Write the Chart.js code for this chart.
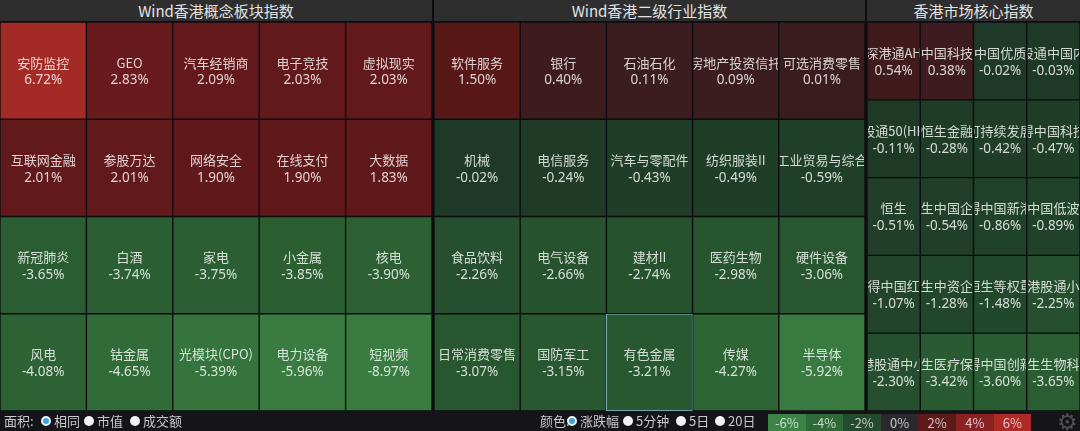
<!DOCTYPE html>
<html><head><meta charset="utf-8">
<script src="https://cdn.jsdelivr.net/npm/chart.js@4.4.0/dist/chart.umd.min.js"></script>
<style>
html,body{margin:0;padding:0;background:#0d0d10;width:1080px;height:431px;overflow:hidden;font-family:"Noto Sans CJK SC","Noto Sans",sans-serif;}
.hdr{position:absolute;top:0;height:21px;background:#2e2e2f;color:#e2e2e2;font-size:15px;line-height:22px;text-align:center;}
.pnl{position:absolute;top:22px;height:389px;}
#bottom{position:absolute;left:0;top:411px;width:1080px;height:20px;background:#141419;color:#c8c8cc;font-size:13px;line-height:20px;}
.t{position:absolute;top:0;white-space:nowrap;}
.rd{position:absolute;top:5px;width:10px;height:10px;border-radius:50%;background:#f2f2f2;box-sizing:border-box;}
.rd.on{background:#3da3dc;border:2px solid #e8f4fa;}
.lg{position:absolute;top:3px;height:17px;line-height:17px;text-align:center;color:rgba(255,255,255,0.72);font-size:13px;}
</style></head>
<body>
<div class="hdr" style="left:0;width:432px">Wind香港概念板块指数</div>
<div class="hdr" style="left:434px;width:431px">Wind香港二级行业指数</div>
<div class="hdr" style="left:867px;width:213px">香港市场核心指数</div>
<div class="pnl" style="left:0;width:432px"><canvas id="c1"></canvas></div>
<div class="pnl" style="left:434px;width:431px"><canvas id="c2"></canvas></div>
<div class="pnl" style="left:867px;width:213px"><canvas id="c3"></canvas></div>
<div id="bottom">
  <span class="t" style="left:4px">面积:</span>
  <span class="rd on" style="left:41px"></span><span class="t" style="left:54px">相同</span>
  <span class="rd" style="left:84px"></span><span class="t" style="left:97px">市值</span>
  <span class="rd" style="left:130px"></span><span class="t" style="left:143px">成交额</span>
  <span class="t" style="left:540px">颜色:</span>
  <span class="rd on" style="left:567px"></span><span class="t" style="left:580px">涨跌幅</span>
  <span class="rd" style="left:623px"></span><span class="t" style="left:636px">5分钟</span>
  <span class="rd" style="left:676px"></span><span class="t" style="left:689px">5日</span>
  <span class="rd" style="left:715px"></span><span class="t" style="left:728px">20日</span>
  <div id="legend"></div>
  <span class="t" style="left:1057px;top:-2px;color:#4e4e55;font-size:23px;line-height:22px;">⚙</span>
</div>
<script>
// ---------- DATA ----------
const conceptNames = ["安防监控","GEO","汽车经销商","电子竞技","虚拟现实",
  "互联网金融","参股万达","网络安全","在线支付","大数据",
  "新冠肺炎","白酒","家电","小金属","核电",
  "风电","钴金属","光模块(CPO)","电力设备","短视频"];
const conceptValues = [6.72,2.83,2.09,2.03,2.03,
  2.01,2.01,1.90,1.90,1.83,
  -3.65,-3.74,-3.75,-3.85,-3.90,
  -4.08,-4.65,-5.39,-5.96,-8.97];

const industryNames = ["软件服务","银行","石油石化","房地产投资信托","可选消费零售",
  "机械","电信服务","汽车与零配件","纺织服装II","工业贸易与综合",
  "食品饮料","电气设备","建材II","医药生物","硬件设备",
  "日常消费零售","国防军工","有色金属","传媒","半导体"];
const industryValues = [1.50,0.40,0.11,0.09,0.01,
  -0.02,-0.24,-0.43,-0.49,-0.59,
  -2.26,-2.66,-2.74,-2.98,-3.06,
  -3.07,-3.15,-3.21,-4.27,-5.92];
const industrySelected = "有色金属";

const coreNames = ["深港通AH","中国科技","中国优质","股通中国内",
  "股通50(HK","恒生金融","可持续发展","得中国科技",
  "恒生","恒生中国企业","得中国新港","中国低波",
  "得中国红","恒生中资企业","恒生等权重","港股通小",
  "港股通中小","恒生医疗保健","得中国创新","恒生生物科技"];
const coreValues = [0.54,0.38,-0.02,-0.03,
  -0.11,-0.28,-0.42,-0.47,
  -0.51,-0.54,-0.86,-0.89,
  -1.07,-1.28,-1.48,-2.25,
  -2.30,-3.42,-3.60,-3.65];

const legendTicks = [-6,-4,-2,0,2,4,6];

// ---------- COLOURS ----------
const negStops = [[0,[30,57,39]],[-1,[33,67,42]],[-2,[36,77,45]],[-3,[39,85,47]],[-4,[44,97,51]],[-5,[51,112,58]],[-6,[57,123,64]]];
const posStops = [[0,[58,28,32]],[0.5,[63,27,30]],[1.5,[88,24,24]],[2,[98,25,27]],[3,[106,26,28]],[6,[164,42,37]]];
function lerpStops(stops, v){
  const a = Math.abs(v);
  for(let i=1;i<stops.length;i++){
    const [v0,c0]=stops[i-1],[v1,c1]=stops[i];
    const a0=Math.abs(v0),a1=Math.abs(v1);
    if(a<=a1){const t=(a-a0)/(a1-a0);return 'rgb('+c0.map((c,k)=>Math.round(c+(c1[k]-c)*t)).join(',')+')';}
  }
  return 'rgb('+stops[stops.length-1][1].join(',')+')';
}
function colorFor(v){ return v>=0 ? lerpStops(posStops,v) : lerpStops(negStops,v); }

// legend boxes
const legendColors = {"-6":"#3b8446","-4":"#2e6a37","-2":"#244a2b","0":"#29292e","2":"#5c1a1b","4":"#8a2222","6":"#ae2a26"};
const lg = document.getElementById('legend');
legendTicks.forEach((t,i)=>{
  const d=document.createElement('div'); d.className='lg';
  d.style.left=(768+i*37.6)+'px'; d.style.width='37.6px';
  d.style.background=legendColors[String(t)];
  d.textContent=t+'%'; lg.appendChild(d);
});

// ---------- CHARTS ----------
const labelPlugin = {
  id:'cellLabels',
  afterDatasetsDraw(chart){
    const ctx=chart.ctx; const info=chart.options.plugins.cellLabels;
    chart.data.datasets.forEach((ds,r)=>{
      const meta=chart.getDatasetMeta(r);
      meta.data.forEach((el,c)=>{
        const p=el.getProps(['x','y','base','width'],true);
        const left=p.x-p.width/2, top=Math.min(p.y,p.base), h=Math.abs(p.base-p.y);
        const idx=r*info.cols+c; const cy=top+h/2;
        ctx.save();
        ctx.beginPath(); ctx.rect(left+1,top,p.width-2,h); ctx.clip();
        ctx.fillStyle='rgba(255,255,255,0.8)';
        ctx.textAlign='center'; ctx.textBaseline='middle';
        ctx.font='13px "Noto Sans CJK SC","Noto Sans",sans-serif';
        ctx.fillText(info.names[idx],p.x,cy-8);
        ctx.font='13.5px "Noto Sans","Noto Sans CJK SC",sans-serif';
        ctx.fillText(info.values[idx].toFixed(2)+'%',p.x,cy+10);
        ctx.restore();
      });
    });
  }
};

function makeGrid(id,names,values,cols,rows,selected){
  const datasets=[];
  for(let r=0;r<rows;r++){
    const bg=[],bc=[];
    for(let c=0;c<cols;c++){
      const i=r*cols+c;
      bg.push(colorFor(values[i]));
      bc.push(names[i]===selected ? '#8cc2d2' : '#0d0d0f');
    }
    datasets.push({data:new Array(cols).fill(1),backgroundColor:bg,borderColor:bc,borderWidth:1,borderSkipped:false,barPercentage:1,categoryPercentage:1});
  }
  return new Chart(document.getElementById(id),{
    type:'bar',
    data:{labels:Array.from({length:cols},(_,i)=>'c'+i),datasets},
    options:{
      responsive:true,maintainAspectRatio:false,animation:false,
      layout:{padding:0},
      scales:{
        x:{stacked:true,display:false,grid:{display:false}},
        y:{stacked:true,display:false,reverse:true,min:0,max:rows,grid:{display:false}}
      },
      plugins:{legend:{display:false},tooltip:{enabled:false},cellLabels:{names,values,cols}}
    },
    plugins:[labelPlugin]
  });
}
makeGrid('c1',conceptNames,conceptValues,5,4,null);
makeGrid('c2',industryNames,industryValues,5,4,industrySelected);
makeGrid('c3',coreNames,coreValues,4,5,null);
</script>
</body></html>
